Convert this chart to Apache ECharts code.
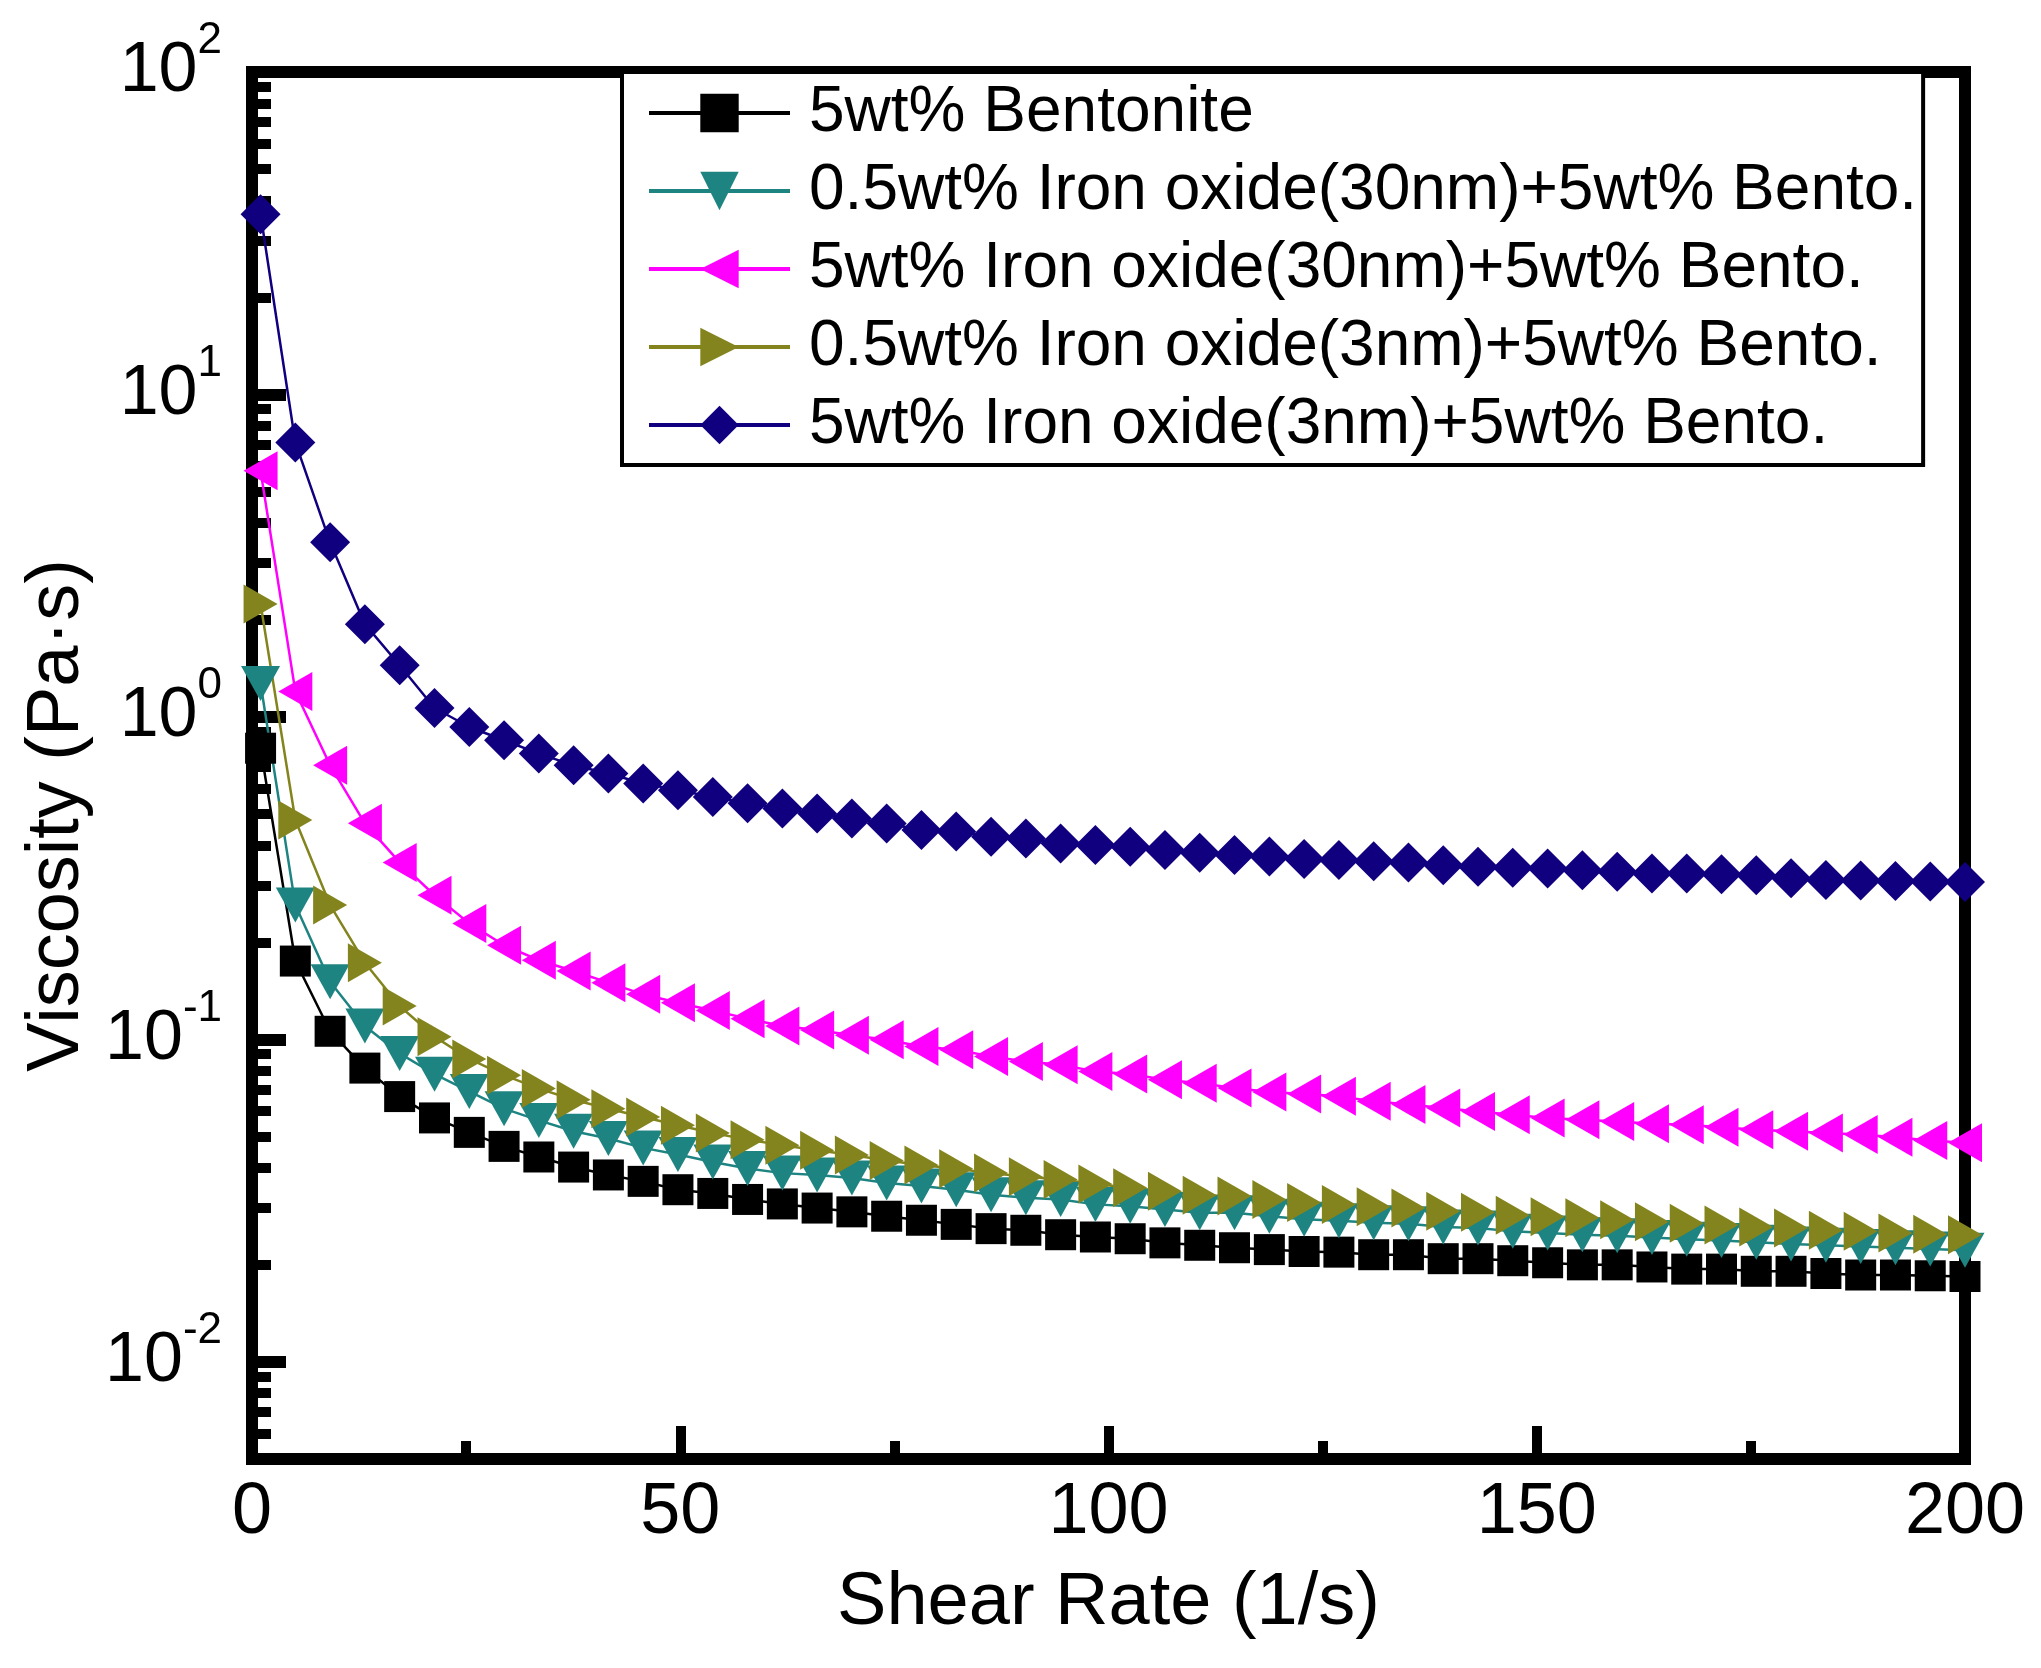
<!DOCTYPE html>
<html>
<head>
<meta charset="utf-8">
<script src="https://cdn.jsdelivr.net/npm/echarts@6.0.0/dist/echarts.min.js"></script>
<style>
  html, body { margin: 0; padding: 0; background: #fff; }
  #main { width: 2041px; height: 1668px; }
</style>
</head>
<body>
<div id="main"></div>
<script>
// shear rate sweep (1/s)
var shearRate = [1, 5.06, 9.12, 13.18, 17.24, 21.31, 25.37, 29.43, 33.49, 37.55,
  41.61, 45.67, 49.73, 53.8, 57.86, 61.92, 65.98, 70.04, 74.1, 78.16,
  82.22, 86.29, 90.35, 94.41, 98.47, 102.53, 106.59, 110.65, 114.71, 118.78,
  122.84, 126.9, 130.96, 135.02, 139.08, 143.14, 147.2, 151.27, 155.33, 159.39,
  163.45, 167.51, 171.57, 175.63, 179.69, 183.76, 187.82, 191.88, 195.94, 200];

// viscosity (Pa·s)
var bentonite = [0.80, 0.175, 0.106, 0.0815, 0.0665, 0.0571, 0.0515, 0.0466, 0.0432, 0.0402,
  0.0380, 0.0363, 0.0342, 0.0333, 0.0319, 0.0309, 0.0300, 0.0292, 0.0283, 0.0275,
  0.0267, 0.0259, 0.0256, 0.0248, 0.0244, 0.0241, 0.0234, 0.0230, 0.0226, 0.0223,
  0.0220, 0.0219, 0.0215, 0.0215, 0.0209, 0.0209, 0.0206, 0.0203, 0.0200, 0.0200,
  0.0197, 0.0194, 0.0194, 0.0191, 0.0191, 0.0188, 0.0186, 0.0186, 0.0185, 0.0184];
var iron30nmLow = [1.27, 0.261, 0.151, 0.110, 0.0905, 0.0780, 0.0690, 0.0610, 0.0561, 0.0519,
  0.0493, 0.0461, 0.0440, 0.0417, 0.0398, 0.0385, 0.0380, 0.0372, 0.0359, 0.0351,
  0.0342, 0.0330, 0.0323, 0.0319, 0.0308, 0.0304, 0.0297, 0.0290, 0.0290, 0.0283,
  0.0277, 0.0274, 0.0270, 0.0268, 0.0262, 0.0260, 0.0254, 0.0251, 0.0248, 0.0246,
  0.0243, 0.0240, 0.0238, 0.0235, 0.0232, 0.0230, 0.0228, 0.0226, 0.0224, 0.0222];
var iron30nmHigh = [5.80, 1.20, 0.708, 0.468, 0.354, 0.280, 0.229, 0.196, 0.176, 0.163,
  0.150, 0.138, 0.130, 0.123, 0.116, 0.110, 0.107, 0.103, 0.0998, 0.0951,
  0.0929, 0.0886, 0.0855, 0.0835, 0.0796, 0.0781, 0.0750, 0.0732, 0.0707, 0.0687,
  0.0677, 0.0666, 0.0643, 0.0628, 0.0613, 0.0598, 0.0584, 0.0571, 0.0564, 0.0557,
  0.0548, 0.0544, 0.0534, 0.0525, 0.0519, 0.0513, 0.0507, 0.0497, 0.0486, 0.0478];
var iron3nmLow = [2.24, 0.479, 0.261, 0.173, 0.127, 0.102, 0.087, 0.0775, 0.0704, 0.0650,
  0.0610, 0.0575, 0.0542, 0.0513, 0.0489, 0.0470, 0.0453, 0.0438, 0.0421, 0.0408,
  0.0397, 0.0385, 0.0375, 0.0368, 0.0356, 0.0347, 0.0338, 0.0329, 0.0327, 0.0319,
  0.0312, 0.0308, 0.0303, 0.0300, 0.0293, 0.0291, 0.0285, 0.0282, 0.0280, 0.0276,
  0.0272, 0.0269, 0.0266, 0.0262, 0.0260, 0.0256, 0.0254, 0.0251, 0.0249, 0.0248];
var iron3nmHigh = [36.2, 7.10, 3.48, 1.94, 1.446, 1.066, 0.931, 0.847, 0.770, 0.708,
  0.668, 0.622, 0.593, 0.565, 0.540, 0.520, 0.502, 0.484, 0.467, 0.446,
  0.441, 0.425, 0.420, 0.405, 0.401, 0.396, 0.387, 0.379, 0.373, 0.369,
  0.363, 0.360, 0.357, 0.354, 0.347, 0.343, 0.341, 0.339, 0.335, 0.331,
  0.327, 0.327, 0.325, 0.323, 0.316, 0.312, 0.311, 0.310, 0.309, 0.308];

var seriesNames = ['5wt% Bentonite',
  '0.5wt% Iron oxide(30nm)+5wt% Bento.',
  '5wt% Iron oxide(30nm)+5wt% Bento.',
  '0.5wt% Iron oxide(3nm)+5wt% Bento.',
  '5wt% Iron oxide(3nm)+5wt% Bento.'];

// log axis range and minor tick positions
var yMin = 0.005, yMax = 100;
var yMinorTicks = [0.006, 0.007, 0.008, 0.009,
  0.02, 0.03, 0.04, 0.05, 0.06, 0.07, 0.08, 0.09,
  0.2, 0.3, 0.4, 0.5, 0.6, 0.7, 0.8, 0.9,
  2, 3, 4, 5, 6, 7, 8, 9,
  20, 30, 40, 50, 60, 70, 80, 90];

var FONT = '"Liberation Sans", Arial, sans-serif';

function pairs(ys) {
  return shearRate.map(function (x, i) { return [x, ys[i]]; });
}

function lineSeries(name, ys, color, symbol, size, rotate) {
  return {
    name: name,
    type: 'line',
    data: pairs(ys),
    symbol: symbol,
    symbolSize: size,
    symbolRotate: rotate,
    lineStyle: { color: color, width: 2.5 },
    itemStyle: { color: color },
    clip: true
  };
}

var option = {
  animation: false,
  backgroundColor: '#fff',
  grid: {
    left: 252, right: 76, top: 72, bottom: 209,
    show: true,
    borderColor: '#000',
    borderWidth: 12,
    backgroundColor: 'transparent'
  },
  legend: {
    orient: 'vertical',
    left: 622,
    top: 72,
    itemWidth: 141,
    itemHeight: 48,
    itemGap: 14,
    padding: [9, 6, 8, 25],
    backgroundColor: '#fff',
    borderColor: '#000',
    borderWidth: 4,
    lineStyle: { width: 4 },
    textStyle: { fontFamily: FONT, fontSize: 64, color: '#000', lineHeight: 64, padding: [0, 0, 0, 14] },
    data: seriesNames
  },
  xAxis: {
    type: 'value',
    min: 0,
    max: 200,
    interval: 50,
    name: 'Shear Rate (1/s)',
    nameLocation: 'middle',
    nameGap: 108,
    nameTextStyle: { fontFamily: FONT, fontSize: 74, color: '#000' },
    axisLine: { show: false, onZero: false },
    axisTick: { inside: true, length: 33, lineStyle: { color: '#000', width: 10 } },
    minorTick: { show: true, splitNumber: 2, length: 18, lineStyle: { color: '#000', width: 10 } },
    axisLabel: { fontFamily: FONT, fontSize: 72, color: '#000', margin: 18 },
    splitLine: { show: false }
  },
  yAxis: [
    {
      type: 'log',
      logBase: 10,
      min: yMin,
      max: yMax,
      position: 'left',
      name: 'Viscosity (Pa·s)',
      nameLocation: 'middle',
      nameRotate: 90,
      nameGap: 152,
      nameTextStyle: { fontFamily: FONT, fontSize: 74, color: '#000', padding: [0, 100, 0, 0] },
      axisLine: { show: false, onZero: false },
      axisTick: { inside: true, length: 34, lineStyle: { color: '#000', width: 12 } },
      axisLabel: {
        margin: 30,
        color: '#000',
        padding: [0, 0, 18, 0],
        formatter: function (v) {
          var e = Math.round(Math.log10(v));
          if (Math.abs(v / Math.pow(10, e) - 1) > 1e-6) return '';
          return '{b|10}{s|' + e + '}';
        },
        rich: {
          b: { fontFamily: FONT, fontSize: 70, lineHeight: 88, verticalAlign: 'bottom', color: '#000' },
          s: { fontFamily: FONT, fontSize: 44, lineHeight: 44, verticalAlign: 'top', color: '#000' }
        }
      },
      splitLine: { show: false }
    },
    {
      // minor ticks of the log axis, placed in log10 space
      type: 'value',
      min: Math.log10(yMin),
      max: Math.log10(yMax),
      position: 'left',
      axisLine: { show: false, onZero: false },
      axisLabel: { show: false },
      axisTick: {
        inside: true,
        length: 19,
        lineStyle: { color: '#000', width: 10 },
        customValues: yMinorTicks.map(function (v) { return Math.log10(v); })
      },
      splitLine: { show: false }
    }
  ],
  series: [
    lineSeries(seriesNames[0], bentonite, '#000000', 'rect', 31, 0),
    lineSeries(seriesNames[1], iron30nmLow, '#1e8482', 'triangle', [39, 35], 180),
    lineSeries(seriesNames[2], iron30nmHigh, '#ff00ff', 'triangle', [39, 34], 90),
    lineSeries(seriesNames[3], iron3nmLow, '#84841e', 'triangle', [39, 34], -90),
    lineSeries(seriesNames[4], iron3nmHigh, '#100080', 'diamond', [40, 40], 0)
  ]
};

var myChart = echarts.init(document.getElementById('main'));
myChart.setOption(option);
</script>
</body>
</html>
